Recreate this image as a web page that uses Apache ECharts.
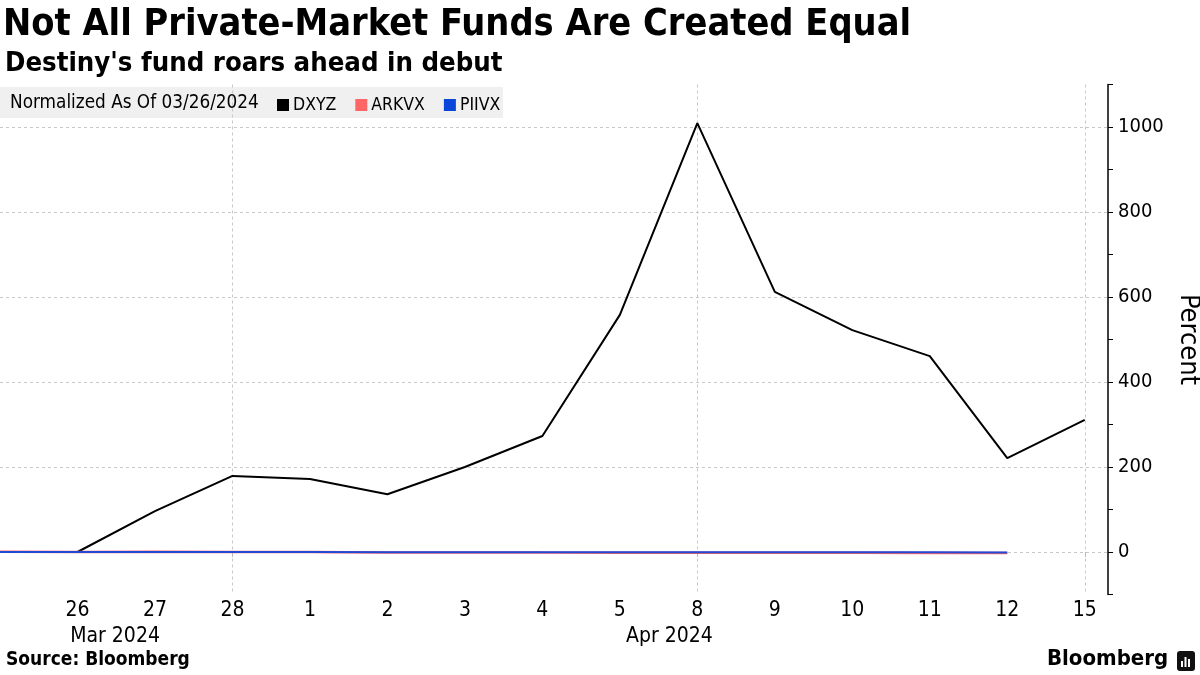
<!DOCTYPE html>
<html>
<head>
<meta charset="utf-8">
<script src="https://cdn.jsdelivr.net/npm/echarts@6/dist/echarts.min.js"></script>
<style>
html,body{margin:0;padding:0;background:#fff;}
#c{width:1200px;height:675px;}
</style>
</head>
<body>
<div id="c"></div>
<script>
// ---- data ----
var dayLabels = ['25', '26', '27', '28', '1', '2', '3', '4', '5', '8', '9', '10', '11', '12', '15'];
var monthLabels = ['Mar 2024', 'Apr 2024'];
var monthPositions = [1.485, 8.64];
var dxyz  = [null, 0, 96, 179, 172, 136, 200, 273, 558, 1009, 612, 522, 461, 221, 311];
var arkvx = [0.5, 0, 0.3, 0.2, 0.1, -1.0, -1.2, -1.4, -1.5, -1.7, -1.8, -2.0, -2.2, -2.3, null];
var piivx = [0.2, 0, 0.1, 0.1, 0, -0.4, -0.5, -0.6, -0.6, -0.7, -0.7, -0.8, -0.8, -0.9, null];
var yTicks = [0, 200, 400, 600, 800, 1000];
var xGridIdx = [3, 9, 14];

function pairs(arr) {
  return arr.map(function (v, i) { return [i, v]; });
}
var FONT = 'DejaVu Sans Condensed, DejaVu Sans, sans-serif';
var labelVals = [];
for (var i = 1; i < dayLabels.length; i++) labelVals.push(i);
labelVals = labelVals.concat(monthPositions);

var chart = echarts.init(document.getElementById('c'));
chart.setOption({
  animation: false,
  backgroundColor: '#ffffff',
  textStyle: { fontFamily: FONT },
  title: [
    { text: 'Not All Private-Market Funds Are Created Equal', left: -2, top: 1,
      textStyle: { fontFamily: FONT, fontSize: 37.6, fontWeight: 'bold', color: '#000' } },
    { text: "Destiny's fund roars ahead in debut", left: 0, top: 45,
      textStyle: { fontFamily: FONT, fontSize: 27.3, fontWeight: 'bold', color: '#000' } }
  ],
  graphic: [
    { type: 'rect', z: 0, shape: { x: 0, y: 87, width: 503, height: 31 }, style: { fill: '#f0f0f0' } },
    { type: 'text', z: 5, style: { x: 10, y: 103, text: 'Normalized As Of 03/26/2024', fontFamily: FONT, fontSize: 18.8, fill: '#000', verticalAlign: 'middle' } },
    { type: 'text', z: 5, left: 6, top: 651, style: { text: 'Source: Bloomberg', fontFamily: FONT, fontSize: 19, fontWeight: 'bold', fill: '#000' } },
    { type: 'text', z: 5, left: 1047, top: 648, style: { text: 'Bloomberg', fontFamily: FONT, fontSize: 22, fontWeight: 'bold', fill: '#000' } },
    { type: 'rect', z: 5, shape: { x: 1177, y: 651, width: 18, height: 20, r: 3 }, style: { fill: '#111' } },
    { type: 'rect', z: 6, shape: { x: 1181, y: 661, width: 2, height: 6 }, style: { fill: '#fff' } },
    { type: 'rect', z: 6, shape: { x: 1184.5, y: 657, width: 2, height: 10 }, style: { fill: '#fff' } },
    { type: 'rect', z: 6, shape: { x: 1188, y: 659, width: 2, height: 8 }, style: { fill: '#fff' } }
  ],
  legend: {
    left: 277, top: 96, itemWidth: 12, itemHeight: 12, itemGap: 19,
    icon: 'rect', padding: 0,
    textStyle: { fontFamily: FONT, fontSize: 17.5, color: '#000', padding: [0, 0, 0, -1] },
    data: ['DXYZ', 'ARKVX', 'PIIVX']
  },
  grid: { left: 0, right: 92, top: 84.5, bottom: 80.5, containLabel: false, outerBoundsMode: 'none' },
  xAxis: {
    type: 'value', min: 0, max: 14.3, interval: 1,
    axisLine: { show: false },
    axisTick: { show: true, customValues: xGridIdx, length: 5, lineStyle: { color: '#bbb' } },
    splitLine: { show: true, lineStyle: { color: '#c8c8c8', type: [3, 3], width: 1 } },
    axisLabel: {
      customValues: labelVals, margin: 3,
      fontFamily: FONT, fontSize: 21, color: '#000', lineHeight: 26,
      formatter: function (v) {
        var mi = monthPositions.indexOf(v);
        if (mi >= 0) return '\n' + monthLabels[mi];
        return dayLabels[Math.round(v)];
      }
    }
  },
  yAxis: {
    type: 'value', position: 'right', min: -100, max: 1100, interval: 100,
    name: 'Percent', nameLocation: 'middle', nameRotate: -90, nameGap: 66,
    nameTextStyle: { fontFamily: FONT, fontSize: 27, color: '#000' },
    axisLine: { show: true, onZero: false, lineStyle: { color: '#000', width: 1.5 } },
    axisTick: { show: true, length: 5, lineStyle: { color: '#000' } },
    splitLine: { show: true, lineStyle: { color: ['transparent', '#c8c8c8'], type: [3, 3], width: 1 } },
    axisLabel: {
      margin: 10, fontFamily: FONT, fontSize: 20, color: '#000',
      formatter: function (v) { return yTicks.indexOf(v) >= 0 ? String(v) : ''; }
    }
  },
  series: [
    { name: 'DXYZ', type: 'line', data: pairs(dxyz), showSymbol: false, symbol: 'none',
      lineStyle: { color: '#000', width: 2 }, itemStyle: { color: '#000' }, z: 3 },
    { name: 'ARKVX', type: 'line', data: pairs(arkvx), showSymbol: false, symbol: 'none',
      lineStyle: { color: '#ff6666', width: 2.5 }, itemStyle: { color: '#ff6666' }, z: 3 },
    { name: 'PIIVX', type: 'line', data: pairs(piivx), showSymbol: false, symbol: 'none',
      lineStyle: { color: '#1f4ad6', width: 2 }, itemStyle: { color: '#0a46d8' }, z: 4 }
  ]
});
</script>
</body>
</html>
